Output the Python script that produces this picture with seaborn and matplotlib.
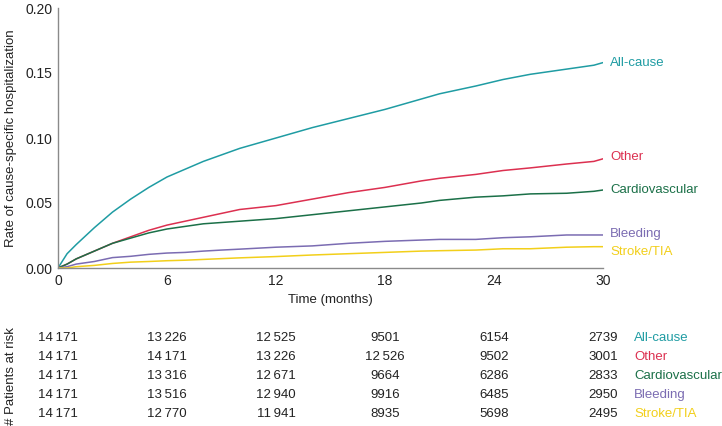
import numpy as np
import pandas as pd
import matplotlib
matplotlib.use("Agg")
import matplotlib.pyplot as plt
import matplotlib.transforms as mtransforms
import seaborn as sns

# ---------------- data ----------------
months = [0, 0.5, 1, 2, 3, 4, 5, 6, 7, 8, 9, 10, 12, 14, 16, 18, 20, 21, 23, 24.5, 26, 28, 29.5, 30]

all_cause = [0, 0.011, 0.018, 0.031, 0.043, 0.053, 0.062, 0.070, 0.076, 0.082, 0.087, 0.092,
             0.100, 0.108, 0.115, 0.122, 0.130, 0.134, 0.140, 0.145, 0.149, 0.153, 0.156, 0.158]
other = [0, 0.003, 0.007, 0.013, 0.019, 0.024, 0.029, 0.033, 0.036, 0.039, 0.042, 0.045,
         0.048, 0.053, 0.058, 0.062, 0.067, 0.069, 0.072, 0.075, 0.077, 0.080, 0.082, 0.084]
cardiovascular = [0, 0.003, 0.007, 0.013, 0.019, 0.023, 0.027, 0.030, 0.032, 0.034, 0.035, 0.036,
                  0.038, 0.041, 0.044, 0.047, 0.050, 0.052, 0.0545, 0.0555, 0.057, 0.0575, 0.059, 0.060]
bleeding = [0, 0.001, 0.003, 0.005, 0.008, 0.009, 0.0105, 0.0115, 0.012, 0.013, 0.0138, 0.0145,
            0.016, 0.017, 0.019, 0.0205, 0.0215, 0.022, 0.022, 0.0233, 0.024, 0.0254, 0.0254, 0.0254]
stroke_tia = [0, 0.0, 0.001, 0.002, 0.0035, 0.0045, 0.005, 0.0056, 0.006, 0.0066, 0.0072, 0.0078,
              0.0088, 0.010, 0.011, 0.012, 0.013, 0.0133, 0.0138, 0.0148, 0.0148, 0.016, 0.0164, 0.0164]

series_names = ["All-cause", "Other", "Cardiovascular", "Bleeding", "Stroke/TIA"]
series_values = [all_cause, other, cardiovascular, bleeding, stroke_tia]
colors = ["#1f9ca3", "#dc3050", "#1b7048", "#7b6cb2", "#f2cf1a"]

risk_months = [0, 6, 12, 18, 24, 30]
risk_all_cause = ["14\u2009171", "13\u2009226", "12\u2009525", "9501", "6154", "2739"]
risk_other = ["14\u2009171", "14\u2009171", "13\u2009226", "12\u2009526", "9502", "3001"]
risk_cardiovascular = ["14\u2009171", "13\u2009316", "12\u2009671", "9664", "6286", "2833"]
risk_bleeding = ["14\u2009171", "13\u2009516", "12\u2009940", "9916", "6485", "2950"]
risk_stroke_tia = ["14\u2009171", "12\u2009770", "11\u2009941", "8935", "5698", "2495"]
risk_rows = [risk_all_cause, risk_other, risk_cardiovascular, risk_bleeding, risk_stroke_tia]

x_ticks = [0, 6, 12, 18, 24, 30]
y_ticks = [0.00, 0.05, 0.10, 0.15, 0.20]

# label offsets (points) to the right-end labels
label_dy = [0, 1.5, 0, 0.5, -3.5]

# ---------------- build table ----------------
df = pd.concat(
    [pd.DataFrame({"Time": months, "Rate": v, "Cause": n}) for n, v in zip(series_names, series_values)],
    ignore_index=True,
)
palette = dict(zip(series_names, colors))

sns.set_theme(style="white")
plt.rcParams["font.family"] = ["Liberation Sans", "DejaVu Sans"]

W, H = 722, 426
fig = plt.figure(figsize=(W / 100, H / 100), dpi=100)
ax = fig.add_axes([58 / W, 1 - 268 / H, (603 - 58) / W, (268 - 8) / H])

sns.lineplot(data=df, x="Time", y="Rate", hue="Cause", palette=palette,
             hue_order=series_names, linewidth=1.1, legend=False, ax=ax)

ax.set_xlim(0, 30)
ax.set_ylim(0, 0.20)
ax.set_xticks(x_ticks)
ax.set_yticks(y_ticks)
ax.set_yticklabels([f"{t:.2f}" for t in y_ticks])
ax.tick_params(axis="both", length=0, labelsize=10, colors="#222222", pad=4)
for s in ["top", "right"]:
    ax.spines[s].set_visible(False)
for s in ["left", "bottom"]:
    ax.spines[s].set_color("#8a8a8a")
    ax.spines[s].set_linewidth(1.0)

ax.set_xlabel("Time (months)", fontsize=9.5, color="#222222")
ax.set_ylabel("Rate of cause-specific hospitalization", fontsize=9.5, color="#222222")
ax.xaxis.set_label_coords(0.5, -0.10)
ax.yaxis.set_label_coords(-0.076, 0.5)

# right-end line labels
for name, vals, col, dy in zip(series_names, series_values, colors, label_dy):
    ax.annotate(name, xy=(months[-1], vals[-1]), xytext=(5, dy), textcoords="offset points",
                ha="left", va="center", fontsize=9.5, color=col, annotation_clip=False)

# at-risk table
trans = mtransforms.blended_transform_factory(ax.transData, fig.transFigure)
row_y = [338, 357, 376, 395, 414]
for row, ypx, name, col in zip(risk_rows, row_y, series_names, colors):
    yf = 1 - ypx / H
    for m, val in zip(risk_months, row):
        fig.text(m, yf, val, transform=trans, ha="center", va="center",
                 fontsize=9.5, color="#222222")
    fig.text(634 / W, yf, name, ha="left", va="center", fontsize=9.5, color=col)

fig.text(11 / W, 1 - 376 / H, "# Patients at risk", rotation=90, ha="center", va="center",
         fontsize=9.5, color="#222222")

fig.savefig("out.png", dpi=100)
